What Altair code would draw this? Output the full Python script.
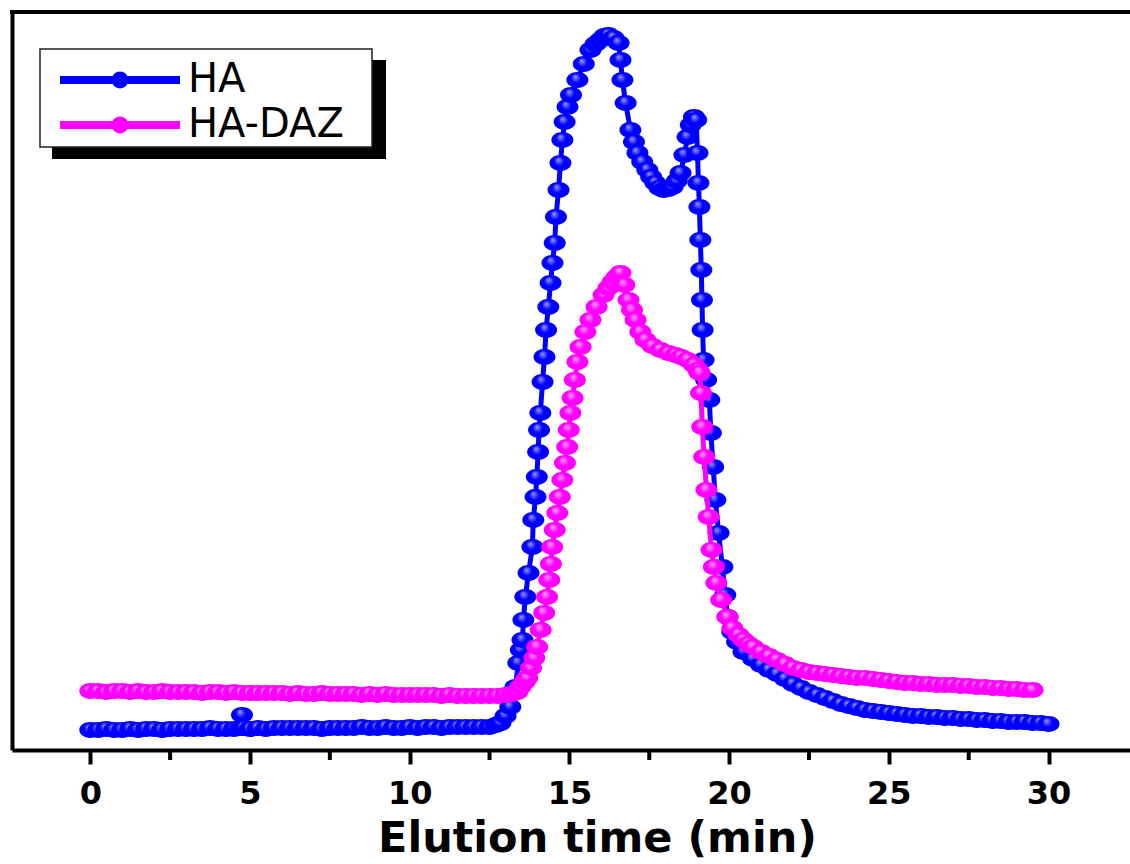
import altair as alt
import pandas as pd

# Elution profiles: (elution time in min, detector response in mV)
ha_points = [
    (0.0, 20), (0.25, 20), (0.5, 21), (0.75, 20), (1.0, 20), (1.25, 21), (1.5, 20), (1.75, 21),
    (2.0, 21), (2.25, 20), (2.5, 21), (2.75, 21), (3.0, 21), (3.25, 21), (3.5, 21), (3.75, 22),
    (4.0, 21), (4.25, 21), (4.5, 21), (4.7, 22), (4.75, 35), (4.8, 22), (5.0, 21), (5.25, 22),
    (5.5, 21), (5.75, 22), (6.0, 22), (6.25, 22), (6.5, 22), (6.75, 22), (7.0, 22), (7.25, 21),
    (7.5, 22), (7.75, 22), (8.0, 22), (8.25, 22), (8.5, 23), (8.75, 22), (9.0, 22), (9.25, 23),
    (9.5, 22), (9.75, 22), (10.0, 23), (10.25, 22), (10.5, 23), (10.75, 23), (11.0, 22), (11.25, 23),
    (11.5, 23), (11.75, 23), (12.0, 23), (12.25, 23), (12.5, 23), (12.7, 25), (12.84, 27), (13.0, 34),
    (13.15, 43), (13.31, 63), (13.4, 87), (13.48, 100), (13.53, 110), (13.56, 130), (13.62, 153),
    (13.72, 177), (13.84, 203), (13.87, 230), (13.94, 253), (13.98, 273), (14.02, 298), (14.05, 320),
    (14.09, 337), (14.16, 368), (14.22, 393), (14.27, 420), (14.34, 443), (14.41, 467), (14.47, 487),
    (14.54, 507), (14.58, 533), (14.66, 560), (14.72, 587), (14.78, 610), (14.85, 628), (14.94, 643),
    (15.05, 655), (15.25, 670), (15.45, 686), (15.66, 700), (15.82, 706), (15.97, 710), (16.1, 714),
    (16.22, 715), (16.38, 712), (16.54, 707), (16.6, 690), (16.66, 670), (16.76, 647), (16.91, 620),
    (17.02, 608), (17.13, 597), (17.28, 588), (17.44, 580), (17.56, 573), (17.69, 567), (17.82, 562),
    (17.95, 560), (18.1, 561), (18.23, 563), (18.36, 569), (18.48, 577), (18.6, 595), (18.7, 613),
    (18.8, 625), (18.9, 633), (18.97, 630), (19.01, 597), (19.04, 567), (19.07, 543), (19.1, 510),
    (19.13, 480), (19.15, 450), (19.17, 420), (19.2, 390), (19.28, 370), (19.38, 350), (19.43, 317),
    (19.5, 283), (19.57, 250), (19.67, 217), (19.79, 183), (19.88, 155), (19.95, 133), (20.1, 118),
    (20.25, 108), (20.45, 98), (20.75, 91), (21.0, 85), (21.25, 80), (21.5, 76), (21.75, 71),
    (22.0, 66), (22.25, 62), (22.5, 58), (22.75, 55), (23.0, 52), (23.25, 49), (23.5, 46),
    (23.75, 44), (24.0, 42), (24.25, 40), (24.5, 39), (24.75, 38), (25.0, 37), (25.25, 36),
    (25.5, 35), (25.75, 34), (26.0, 34), (26.25, 33), (26.5, 33), (26.75, 32), (27.0, 32),
    (27.25, 31), (27.5, 31), (27.75, 30), (28.0, 30), (28.25, 29), (28.5, 29), (28.75, 28),
    (29.0, 28), (29.25, 28), (29.5, 27), (29.75, 27), (30.0, 26),
]

ha_daz_points = [
    (0.0, 59), (0.25, 59), (0.5, 58), (0.75, 59), (1.0, 59), (1.25, 58), (1.5, 59), (1.75, 58),
    (2.0, 58), (2.25, 59), (2.5, 58), (2.75, 58), (3.0, 58), (3.25, 58), (3.5, 57), (3.75, 58),
    (4.0, 58), (4.25, 57), (4.5, 58), (4.75, 57), (5.0, 57), (5.25, 57), (5.5, 57), (5.75, 57),
    (6.0, 57), (6.25, 56), (6.5, 57), (6.75, 56), (7.0, 56), (7.25, 57), (7.5, 56), (7.75, 56),
    (8.0, 56), (8.25, 56), (8.5, 55), (8.75, 56), (9.0, 55), (9.25, 56), (9.5, 55), (9.75, 55),
    (10.0, 55), (10.25, 55), (10.5, 55), (10.75, 55), (11.0, 54), (11.25, 55), (11.5, 54), (11.75, 54),
    (12.0, 54), (12.25, 54), (12.5, 54), (12.75, 54), (13.0, 55), (13.2, 56), (13.37, 58),
    (13.47, 63), (13.6, 68), (13.68, 72), (13.8, 82), (13.9, 92), (13.99, 103), (14.1, 120),
    (14.21, 137), (14.3, 153), (14.37, 170), (14.42, 186), (14.46, 203), (14.54, 220), (14.62, 237),
    (14.7, 253), (14.78, 270), (14.86, 287), (14.93, 303), (14.98, 320), (15.03, 337), (15.1, 352),
    (15.17, 370), (15.25, 388), (15.35, 403), (15.5, 418), (15.66, 430), (15.85, 443), (16.07, 455),
    (16.22, 462), (16.35, 468), (16.48, 473), (16.6, 477), (16.72, 465), (16.85, 450), (16.96, 440),
    (17.07, 430), (17.22, 418), (17.38, 410), (17.6, 404), (17.85, 400), (18.1, 397), (18.32, 395),
    (18.5, 393), (18.7, 390), (18.9, 385), (19.03, 380), (19.08, 377), (19.12, 357), (19.16, 323),
    (19.22, 293), (19.29, 260), (19.36, 233), (19.45, 200), (19.52, 183), (19.6, 167), (19.75, 150),
    (19.95, 133), (20.1, 122), (20.29, 115), (20.45, 110), (20.6, 106), (20.75, 103), (21.0, 98),
    (21.25, 94), (21.5, 90), (21.75, 86), (22.0, 82), (22.25, 80), (22.5, 78), (22.75, 77),
    (23.0, 76), (23.25, 75), (23.5, 74), (23.75, 73), (24.0, 72), (24.25, 72), (24.5, 71),
    (24.75, 70), (25.0, 69), (25.25, 68), (25.5, 67), (25.75, 67), (26.0, 66), (26.25, 66),
    (26.5, 65), (26.75, 65), (27.0, 65), (27.25, 64), (27.5, 64), (27.75, 63), (28.0, 63),
    (28.25, 62), (28.5, 62), (28.75, 61), (29.0, 61), (29.25, 60), (29.5, 60),
]

series_names = ["HA", "HA-DAZ"]
series_colors = ["#0000ff", "#ff00ff"]
highlight_colors = ["#9a9aff", "#ffa6ff"]
x_ticks = [0, 5, 10, 15, 20, 25, 30]
x_minor_ticks = [2.5, 7.5, 12.5, 17.5, 22.5, 27.5]

W, H = 1118, 738
X_DOMAIN = [-2.45, 32.55]
Y_DOMAIN = [0, 738]

rows = []
for name, pts in zip(series_names, [ha_points, ha_daz_points]):
    for t, v in pts:
        rows.append({"time": t, "signal": v, "series": name})
df = pd.DataFrame(rows)

x_enc = alt.X(
    "time:Q",
    scale=alt.Scale(domain=X_DOMAIN, nice=False, zero=False),
    axis=alt.Axis(
        values=x_ticks, format="d", title="Elution time (min)",
        labelFont="DejaVu Sans", labelFontWeight="bold", labelFontSize=32, labelColor="black",
        labelPadding=14, tickSize=14, tickWidth=4, tickColor="black",
        domainWidth=4, domainColor="black", grid=False,
        titleFont="DejaVu Sans", titleFontWeight="bold", titleFontSize=43, titleColor="black",
        titlePadding=8, titleX=585,
    ),
)
y_enc = alt.Y(
    "signal:Q",
    scale=alt.Scale(domain=Y_DOMAIN, nice=False, zero=False),
    axis=alt.Axis(labels=False, ticks=False, title=None, grid=False,
                  domainWidth=4, domainColor="black"),
)

# legend symbol: a line segment with a dot in the middle
legend_symbol = "M-6,0 H6 M-0.45,0 A0.45,0.45 0 1,0 0.45,0 A0.45,0.45 0 1,0 -0.45,0 Z"
color_enc = alt.Color(
    "series:N",
    scale=alt.Scale(domain=series_names, range=series_colors),
    legend=alt.Legend(
        title=None, orient="none", legendX=48, legendY=48, padding=0,
        symbolType=legend_symbol, symbolSize=400, symbolStrokeWidth=8, symbolOpacity=1,
        symbolOffset=40, labelOffset=48, rowPadding=3,
        labelFont="DejaVu Sans", labelFontSize=40, labelColor="black",
    ),
)

marker_shape = "M-1,0 A1,0.72 0 1,0 1,0 A1,0.72 0 1,0 -1,0 Z"

base = alt.Chart(df)
layers = []

one = pd.DataFrame({"k": [0]})
# legend frame with drop shadow
layers.append(alt.Chart(one).mark_rect(color="black").encode(
    x=alt.value(40), x2=alt.value(374), y=alt.value(48), y2=alt.value(147)))
layers.append(alt.Chart(one).mark_rect(fill="white", stroke="#222222", strokeWidth=1.5).encode(
    x=alt.value(28), x2=alt.value(360), y=alt.value(37), y2=alt.value(135)))
# top frame line
layers.append(alt.Chart(one).mark_rule(color="black", strokeWidth=4).encode(
    x=alt.value(-2), x2=alt.value(W), y=alt.value(0)))
# minor ticks on the time axis
layers.append(alt.Chart(pd.DataFrame({"time": x_minor_ticks})).mark_rule(
    color="black", strokeWidth=4).encode(
    x=alt.X("time:Q", scale=alt.Scale(domain=X_DOMAIN, nice=False, zero=False)),
    y=alt.value(H), y2=alt.value(H + 10)))

for name, col, hi in zip(series_names, series_colors, highlight_colors):
    sub = base.transform_filter(alt.datum.series == name)
    layers.append(sub.mark_line(strokeWidth=5).encode(
        x=x_enc, y=y_enc, color=color_enc, order="time:Q"))
    grad = {
        "gradient": "radial", "x1": 0.4, "y1": 0.35, "r1": 0,
        "x2": 0.5, "y2": 0.5, "r2": 0.5,
        "stops": [{"offset": 0, "color": hi}, {"offset": 0.45, "color": col},
                  {"offset": 1, "color": col}],
    }
    layers.append(sub.mark_point(shape=marker_shape, size=484, filled=True, fill=grad,
                                 strokeWidth=0, opacity=1).encode(x=x_enc, y=y_enc))

chart = alt.layer(*layers).properties(
    width=W, height=H,
    autosize=alt.AutoSizeParams(type="none"),
    padding={"left": 12, "top": 12, "right": 0, "bottom": 114},
    background="white",
).configure_view(stroke=None)

chart.save("out.html", embed_options={"renderer": "svg", "actions": False})
